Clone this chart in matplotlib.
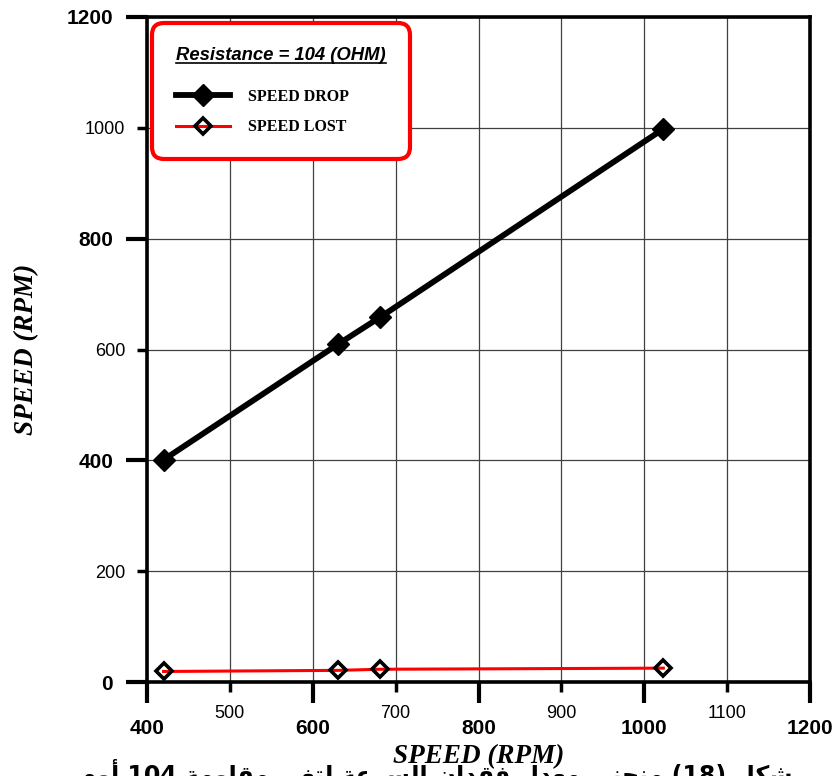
import matplotlib
matplotlib.use("Agg")
import matplotlib.pyplot as plt
from matplotlib.lines import Line2D

# values
speed = [420, 631, 681, 1023]
speed_drop = [401, 610, 658, 998]
speed_lost = [19, 21, 23, 25]

x_major = [400, 600, 800, 1000, 1200]
x_minor = [500, 700, 900, 1100]
y_major = [0, 400, 800, 1200]
y_minor = [200, 600, 1000]

series_names = ["SPEED DROP", "SPEED LOST"]
legend_title = "Resistance = 104 (OHM)"
axis_label = "SPEED (RPM)"
caption = "شكل (18) منحنى معدل فقدان السرعة لتغير مقاومة 104 أوم"

# small arabic shaper (presentation forms), matplotlib has no bidi
FORMS = {
    'ا': ('\uFE8D', '\uFE8E'), 'أ': ('\uFE83', '\uFE84'),
    'د': ('\uFEA9', '\uFEAA'), 'ر': ('\uFEAD', '\uFEAE'),
    'و': ('\uFEED', '\uFEEE'), 'ة': ('\uFE93', '\uFE94'),
    'ى': ('\uFEEF', '\uFEF0'),
    'ت': ('\uFE95', '\uFE96', '\uFE97', '\uFE98'),
    'ح': ('\uFEA1', '\uFEA2', '\uFEA3', '\uFEA4'),
    'س': ('\uFEB1', '\uFEB2', '\uFEB3', '\uFEB4'),
    'ش': ('\uFEB5', '\uFEB6', '\uFEB7', '\uFEB8'),
    'ض': ('\uFEBD', '\uFEBE', '\uFEBF', '\uFEC0'),
    'ع': ('\uFEC9', '\uFECA', '\uFECB', '\uFECC'),
    'غ': ('\uFECD', '\uFECE', '\uFECF', '\uFED0'),
    'ف': ('\uFED1', '\uFED2', '\uFED3', '\uFED4'),
    'ق': ('\uFED5', '\uFED6', '\uFED7', '\uFED8'),
    'ك': ('\uFED9', '\uFEDA', '\uFEDB', '\uFEDC'),
    'ل': ('\uFEDD', '\uFEDE', '\uFEDF', '\uFEE0'),
    'م': ('\uFEE1', '\uFEE2', '\uFEE3', '\uFEE4'),
    'ن': ('\uFEE5', '\uFEE6', '\uFEE7', '\uFEE8'),
    'ي': ('\uFEF1', '\uFEF2', '\uFEF3', '\uFEF4'),
}


def shape_word(word):
    if not any(c in FORMS for c in word):
        return word
    out = []
    for i, c in enumerate(word):
        f = FORMS[c]
        prev_joins = i > 0 and len(FORMS[word[i - 1]]) == 4
        next_joins = i < len(word) - 1 and len(f) == 4
        if prev_joins and next_joins:
            out.append(f[3])
        elif prev_joins:
            out.append(f[1])
        elif next_joins:
            out.append(f[2])
        else:
            out.append(f[0])
    return "".join(out)[::-1]


def shape_rtl(text):
    return " ".join(shape_word(w) for w in text.split()[::-1])


fig = plt.figure(figsize=(8.38, 7.76), dpi=100)
ax = fig.add_axes([147 / 838, 94 / 776, 663 / 838, 665 / 776])

ax.plot(speed, speed_drop, color="black", lw=4.2, marker="D", ms=11,
        mfc="black", mec="black", label=series_names[0], clip_on=False, zorder=3)
ax.plot(speed, speed_lost, color="red", lw=2.2, marker="D", ms=8.5,
        mfc="none", mec="black", mew=2.6, label=series_names[1], clip_on=False, zorder=3)

ax.set_xlim(400, 1200)
ax.set_ylim(0, 1200)

ax.set_xticks(x_major, labels=[str(v) for v in x_major], fontweight="bold",
              fontsize=15, family="Liberation Sans")
ax.set_xticks(x_minor, labels=[str(v) for v in x_minor], minor=True,
              fontsize=13, family="Liberation Sans")
ax.set_yticks(y_major, labels=[str(v) for v in y_major], fontweight="bold",
              fontsize=15, family="Liberation Sans")
ax.set_yticks(y_minor, labels=[str(v) for v in y_minor], minor=True,
              fontsize=13, family="Liberation Sans")

ax.tick_params(which="major", length=15, width=3, direction="out")
ax.tick_params(which="minor", length=7, width=2.5, direction="out")
ax.tick_params(axis="x", which="major", pad=12)
ax.tick_params(axis="x", which="minor", pad=9.4)
ax.tick_params(axis="y", which="major", pad=9.4)
ax.tick_params(axis="y", which="minor", pad=8.6)

ax.grid(which="both", color="0.25", lw=0.9)
ax.set_axisbelow(True)
for s in ax.spines.values():
    s.set_linewidth(2.6)

lab_font = dict(family="Liberation Serif", weight="bold", style="italic", size=19.5)
ax.set_xlabel(axis_label, **lab_font)
ax.set_ylabel(axis_label, **lab_font)
ax.xaxis.set_label_coords(0.5, -0.093)
ax.yaxis.set_label_coords(-0.163, 0.5)

leg = ax.legend(title=legend_title, loc="upper left", bbox_to_anchor=(0.0075, 0.991),
                borderaxespad=0, alignment="left",
                prop=dict(family="Liberation Serif", weight="bold", size=11.5),
                title_fontproperties=dict(family="Liberation Sans", weight="bold",
                                          style="italic", size=13.3),
                fancybox=True, edgecolor="red", framealpha=1,
                handlelength=3.4, handletextpad=1.1, borderpad=1.5, labelspacing=0.9)
leg.get_frame().set_linewidth(3)
leg.get_frame().set_boxstyle("round", pad=0, rounding_size=0.75)
# a bit more room between the title and the entries
leg._legend_box.sep = 18

fig.text(0.52, 0.0215, shape_rtl(caption), ha="center", va="top",
         fontsize=17, fontweight="bold", family="DejaVu Sans")

# underline the legend title
fig.canvas.draw()
bb = leg.get_title().get_window_extent()
inv = fig.transFigure.inverted()
(x0, y0), (x1, _) = inv.transform([(bb.x0, bb.y0 + 1), (bb.x1, bb.y0 + 1)])
fig.add_artist(Line2D([x0, x1], [y0, y0], color="black", lw=1.2, transform=fig.transFigure))

fig.savefig("out.png", dpi=100)
